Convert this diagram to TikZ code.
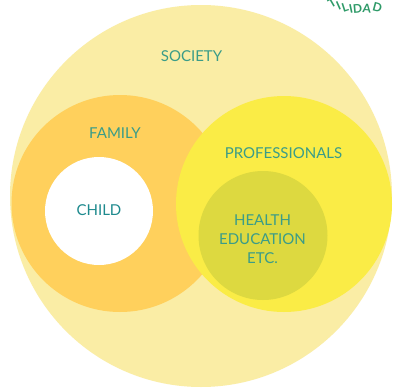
\documentclass[tikz,border=0pt]{standalone}
\usepackage{fontspec}
\setmainfont{Lato}
\definecolor{society}{HTML}{FAEDA5}
\definecolor{family}{HTML}{FFD05C}
\definecolor{prof}{HTML}{FAEC46}
\definecolor{health}{HTML}{DDD940}
\definecolor{labelc}{HTML}{3A9C88}
\definecolor{childc}{HTML}{1E8A8E}
\definecolor{arcc}{HTML}{2E9A68}
\tikzset{
  disc/.style={circle,draw=none,inner sep=0pt,outer sep=0pt},
  lab/.style={text=labelc,font=\fontsize{15pt}{19pt}\selectfont,align=center,inner sep=0pt},
  arcl/.style={text=arcc,font=\bfseries\fontsize{12pt}{13pt}\selectfont,inner sep=0pt}
}
\begin{document}
\begin{tikzpicture}[x=1pt,y=-1pt]
\path[use as bounding box] (0,0) rectangle (397,389);
\clip (0,0) rectangle (397,389);
\fill[white] (0,0) rectangle (397,389);
\node[disc,fill=society,minimum size=382pt] (soc) at (201,196) {};
\node[disc,fill=family,minimum size=217pt] (fam) at (120,203.5) {};
\node[disc,fill=prof,minimum size=216pt] (pro) at (284,204) {};
\node[disc,fill=health,minimum size=129pt] (hea) at (263,235.5) {};
\node[disc,fill=white,minimum size=108pt] (chi) at (99,211) {};
\node[lab] (tsoc) at (191.5,56) {SOCIETY};
\node[lab] (tfam) at (115,133.5) {FAMILY};
\node[lab] (tpro) at (283.5,153) {PROFESSIONALS};
\node[lab,text=childc] (tchi) at (99,210.5) {CHILD};
\node[lab] (thea) at (262.5,239) {HEALTH\\EDUCATION\\ETC.};
\node[arcl,rotate=30] (a1) at (332,3) {T};
\node[arcl,rotate=24] (a2) at (338.5,5.5) {I};
\node[arcl,rotate=18] (a3) at (345,7.5) {L};
\node[arcl,rotate=12] (a4) at (351,8.5) {I};
\node[arcl,rotate=5] (a5) at (357.5,9) {D};
\node[arcl,rotate=-5] (a6) at (367,9) {A};
\node[arcl,rotate=-15] (a7) at (377.5,7) {D};
\end{tikzpicture}
\end{document}
